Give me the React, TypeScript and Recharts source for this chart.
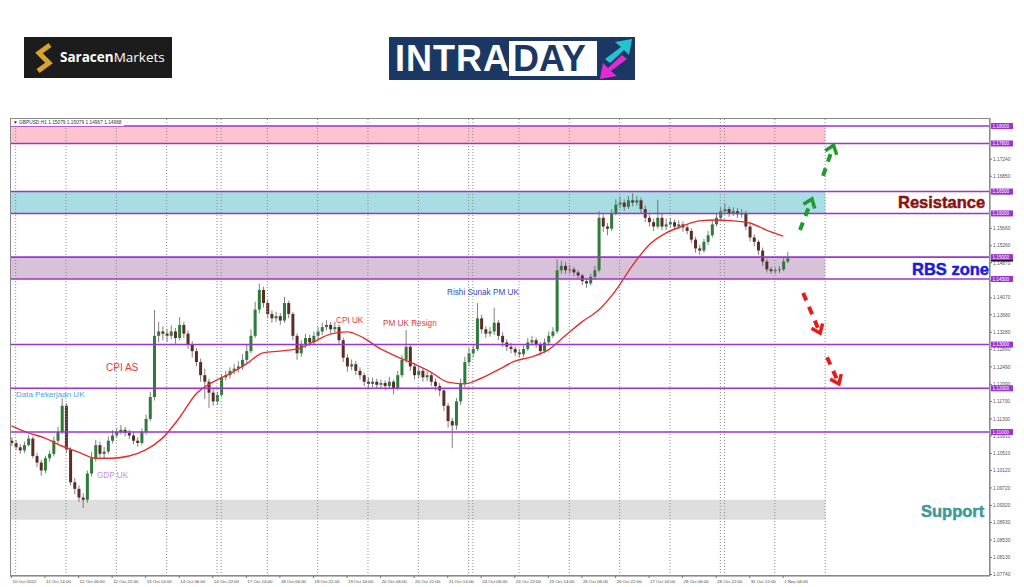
import React from "react";
import {
  ComposedChart,
  Bar,
  Line,
  XAxis,
  YAxis,
  ReferenceArea,
  ReferenceLine,
} from "recharts";

// GBPUSD H1, drawn here as 2-hour candles; x is the hourly bar number
const timeLabels = [
  "10 Oct 2022", "11 Oct 14:00", "12 Oct 06:00", "12 Oct 22:00", "13 Oct 14:00",
  "14 Oct 06:00", "14 Oct 22:00", "17 Oct 14:00", "18 Oct 06:00", "18 Oct 22:00",
  "19 Oct 14:00", "20 Oct 06:00", "20 Oct 22:00", "21 Oct 14:00", "24 Oct 06:00",
  "24 Oct 22:00", "25 Oct 14:00", "26 Oct 06:00", "26 Oct 22:00", "27 Oct 14:00",
  "28 Oct 06:00", "28 Oct 22:00", "31 Oct 12:00", "1 Nov 04:00",
];
const tickBars = [
  0, 16, 32, 48, 64, 80, 96, 112, 128, 144, 160, 176, 192, 208, 224, 240, 256,
  272, 288, 304, 320, 336, 352, 368,
];
const dayLines = [2, 26, 50, 74, 98, 100, 122, 146, 170, 194, 218, 220, 242, 266, 290, 314, 338, 340, 364, 388];

const opens = [
  1.1080, 1.1075, 1.1065, 1.1058, 1.1070, 1.1085, 1.1045, 1.1030, 1.1012, 1.1040,
  1.1050, 1.1080, 1.1100, 1.1160, 1.1060, 1.0985, 1.0970, 1.0950, 1.0945, 1.1005,
  1.1040, 1.1070, 1.1050, 1.1055, 1.1080, 1.1092, 1.1100, 1.1105, 1.1098, 1.1092,
  1.1080, 1.1075, 1.1100, 1.1130, 1.1180, 1.1320, 1.1330, 1.1325, 1.1320, 1.1330,
  1.1315, 1.1345, 1.1325, 1.1300, 1.1285, 1.1260, 1.1230, 1.1215, 1.1190, 1.1170,
  1.1185, 1.1225, 1.1230, 1.1240, 1.1245, 1.1250, 1.1265, 1.1285, 1.1320, 1.1380,
  1.1425, 1.1395, 1.1370, 1.1360, 1.1365, 1.1355, 1.1395, 1.1370, 1.1320, 1.1280,
  1.1300, 1.1315, 1.1305, 1.1320, 1.1330, 1.1340, 1.1345, 1.1335, 1.1340, 1.1310,
  1.1270, 1.1250, 1.1255, 1.1240, 1.1230, 1.1215, 1.1210, 1.1215, 1.1208, 1.1212,
  1.1205, 1.1215, 1.1200, 1.1230, 1.1265, 1.1295, 1.1250, 1.1230, 1.1240, 1.1225,
  1.1230, 1.1215, 1.1205, 1.1195, 1.1160, 1.1125, 1.1115, 1.1170, 1.1210, 1.1260,
  1.1280, 1.1290, 1.1360, 1.1335, 1.1325, 1.1330, 1.1350, 1.1320, 1.1305, 1.1295,
  1.1290, 1.1282, 1.1278, 1.1290, 1.1305, 1.1310, 1.1300, 1.1285, 1.1305, 1.1320,
  1.1330, 1.1470, 1.1480, 1.1470, 1.1472, 1.1465, 1.1458, 1.1445, 1.1440, 1.1455,
  1.1470, 1.1590, 1.1570, 1.1565, 1.1600, 1.1620, 1.1625, 1.1615, 1.1630, 1.1625,
  1.1630, 1.1610, 1.1590, 1.1580, 1.1570, 1.1590, 1.1570, 1.1575, 1.1580, 1.1570,
  1.1575, 1.1568, 1.1560, 1.1540, 1.1520, 1.1515, 1.1535, 1.1550, 1.1575, 1.1590,
  1.1605, 1.1610, 1.1600, 1.1605, 1.1598, 1.1600, 1.1570, 1.1545, 1.1535, 1.1515,
  1.1490, 1.1472, 1.1468, 1.1470, 1.1472, 1.1490,
];
const highs = [
  1.1088, 1.1082, 1.1072, 1.1078, 1.1093, 1.1090, 1.1052, 1.1036, 1.1046, 1.1058,
  1.1090, 1.1112, 1.1178, 1.1166, 1.1065, 1.0995, 1.0978, 1.0960, 1.1012, 1.1055,
  1.1082, 1.1078, 1.1066, 1.1090, 1.1104, 1.1110, 1.1116, 1.1112, 1.1105, 1.1098,
  1.1088, 1.1108, 1.1140, 1.1192, 1.1379, 1.1352, 1.1342, 1.1336, 1.1344, 1.1338,
  1.1363, 1.1352, 1.1332, 1.1308, 1.1292, 1.1268, 1.1245, 1.1222, 1.1198, 1.1192,
  1.1232, 1.1240, 1.1248, 1.1256, 1.1262, 1.1278, 1.1300, 1.1335, 1.1398, 1.1439,
  1.1432, 1.1402, 1.1378, 1.1375, 1.1372, 1.1409, 1.1400, 1.1375, 1.1326, 1.1310,
  1.1325, 1.1322, 1.1330, 1.1340, 1.1350, 1.1356, 1.1352, 1.1352, 1.1346, 1.1316,
  1.1278, 1.1266, 1.1262, 1.1248, 1.1236, 1.1225, 1.1224, 1.1222, 1.1220, 1.1218,
  1.1226, 1.1220, 1.1240, 1.1276, 1.1333, 1.1300, 1.1258, 1.1250, 1.1246, 1.1238,
  1.1236, 1.1222, 1.1212, 1.1200, 1.1166, 1.1132, 1.1178, 1.1222, 1.1272, 1.1292,
  1.1300, 1.1395, 1.1368, 1.1342, 1.1340, 1.1384, 1.1356, 1.1328, 1.1312, 1.1304,
  1.1296, 1.1290, 1.1298, 1.1315, 1.1320, 1.1316, 1.1306, 1.1314, 1.1330, 1.1340,
  1.1495, 1.1492, 1.1488, 1.1482, 1.1478, 1.1470, 1.1462, 1.1452, 1.1462, 1.1480,
  1.1605, 1.1598, 1.1578, 1.1610, 1.1632, 1.1638, 1.1632, 1.1640, 1.1646, 1.1640,
  1.1636, 1.1618, 1.1598, 1.1588, 1.1631, 1.1600, 1.1588, 1.1590, 1.1586, 1.1584,
  1.1582, 1.1574, 1.1566, 1.1546, 1.1528, 1.1542, 1.1560, 1.1584, 1.1600, 1.1614,
  1.1622, 1.1616, 1.1614, 1.1612, 1.1610, 1.1606, 1.1576, 1.1552, 1.1540, 1.1522,
  1.1496, 1.1478, 1.1476, 1.1480, 1.1498, 1.1512,
];
const lows = [
  1.1068, 1.1058, 1.1050, 1.1052, 1.1066, 1.1040, 1.1020, 1.1000, 1.1006, 1.1032,
  1.1044, 1.1074, 1.1095, 1.1052, 1.0978, 1.0958, 1.0940, 1.0926, 1.0938, 1.0998,
  1.1032, 1.1042, 1.1040, 1.1050, 1.1074, 1.1086, 1.1094, 1.1090, 1.1084, 1.1072,
  1.1066, 1.1070, 1.1094, 1.1125, 1.1172, 1.1305, 1.1310, 1.1306, 1.1312, 1.1302,
  1.1310, 1.1315, 1.1290, 1.1270, 1.1250, 1.1215, 1.1175, 1.1155, 1.1160, 1.1162,
  1.1180, 1.1218, 1.1222, 1.1232, 1.1236, 1.1242, 1.1258, 1.1280, 1.1315, 1.1372,
  1.1385, 1.1360, 1.1350, 1.1352, 1.1345, 1.1350, 1.1360, 1.1310, 1.1265, 1.1272,
  1.1292, 1.1296, 1.1298, 1.1312, 1.1322, 1.1332, 1.1326, 1.1328, 1.1302, 1.1260,
  1.1238, 1.1242, 1.1230, 1.1220, 1.1205, 1.1200, 1.1202, 1.1198, 1.1200, 1.1195,
  1.1198, 1.1186, 1.1195, 1.1225, 1.1258, 1.1240, 1.1220, 1.1222, 1.1215, 1.1216,
  1.1205, 1.1195, 1.1182, 1.1148, 1.1110, 1.1063, 1.1105, 1.1162, 1.1202, 1.1250,
  1.1270, 1.1285, 1.1325, 1.1315, 1.1318, 1.1322, 1.1310, 1.1295, 1.1285, 1.1280,
  1.1274, 1.1270, 1.1272, 1.1285, 1.1298, 1.1292, 1.1276, 1.1280, 1.1298, 1.1315,
  1.1325, 1.1462, 1.1462, 1.1462, 1.1456, 1.1450, 1.1436, 1.1430, 1.1435, 1.1448,
  1.1465, 1.1558, 1.1550, 1.1560, 1.1595, 1.1612, 1.1606, 1.1610, 1.1616, 1.1618,
  1.1600, 1.1580, 1.1570, 1.1560, 1.1565, 1.1562, 1.1562, 1.1568, 1.1562, 1.1564,
  1.1558, 1.1552, 1.1532, 1.1510, 1.1505, 1.1510, 1.1528, 1.1545, 1.1570, 1.1585,
  1.1598, 1.1592, 1.1594, 1.1590, 1.1590, 1.1562, 1.1536, 1.1525, 1.1505, 1.1480,
  1.1465, 1.1462, 1.1462, 1.1464, 1.1468, 1.1486,
];
const closes = [
  1.1075, 1.1065, 1.1058, 1.1070, 1.1085, 1.1045, 1.1030, 1.1012, 1.1040, 1.1050,
  1.1080, 1.1100, 1.1160, 1.1060, 1.0985, 1.0970, 1.0950, 1.0945, 1.1005, 1.1040,
  1.1070, 1.1050, 1.1055, 1.1080, 1.1092, 1.1100, 1.1105, 1.1098, 1.1092, 1.1080,
  1.1075, 1.1100, 1.1130, 1.1180, 1.1320, 1.1330, 1.1325, 1.1320, 1.1330, 1.1315,
  1.1345, 1.1325, 1.1300, 1.1285, 1.1260, 1.1230, 1.1215, 1.1190, 1.1170, 1.1185,
  1.1225, 1.1230, 1.1240, 1.1245, 1.1250, 1.1265, 1.1285, 1.1320, 1.1380, 1.1425,
  1.1395, 1.1370, 1.1360, 1.1365, 1.1355, 1.1395, 1.1370, 1.1320, 1.1280, 1.1300,
  1.1315, 1.1305, 1.1320, 1.1330, 1.1340, 1.1345, 1.1335, 1.1340, 1.1310, 1.1270,
  1.1250, 1.1255, 1.1240, 1.1230, 1.1215, 1.1210, 1.1215, 1.1208, 1.1212, 1.1205,
  1.1215, 1.1200, 1.1230, 1.1265, 1.1295, 1.1250, 1.1230, 1.1240, 1.1225, 1.1230,
  1.1215, 1.1205, 1.1195, 1.1160, 1.1125, 1.1115, 1.1170, 1.1210, 1.1260, 1.1280,
  1.1290, 1.1360, 1.1335, 1.1325, 1.1330, 1.1350, 1.1320, 1.1305, 1.1295, 1.1290,
  1.1282, 1.1278, 1.1290, 1.1305, 1.1310, 1.1300, 1.1285, 1.1305, 1.1320, 1.1330,
  1.1470, 1.1480, 1.1470, 1.1472, 1.1465, 1.1458, 1.1445, 1.1440, 1.1455, 1.1470,
  1.1590, 1.1570, 1.1565, 1.1600, 1.1620, 1.1625, 1.1615, 1.1630, 1.1625, 1.1630,
  1.1610, 1.1590, 1.1580, 1.1570, 1.1590, 1.1570, 1.1575, 1.1580, 1.1570, 1.1575,
  1.1568, 1.1560, 1.1540, 1.1520, 1.1515, 1.1535, 1.1550, 1.1575, 1.1590, 1.1605,
  1.1610, 1.1600, 1.1605, 1.1598, 1.1600, 1.1570, 1.1545, 1.1535, 1.1515, 1.1490,
  1.1472, 1.1468, 1.1470, 1.1472, 1.1490, 1.1497,
];
// red moving average, read every 4th candle
const maValues = [
  1.1114, 1.1098, 1.1086, 1.1068, 1.1054, 1.1040, 1.1040, 1.1045, 1.1059, 1.1086,
  1.1132, 1.1187, 1.1214, 1.1233, 1.1256, 1.1281, 1.1285, 1.1290, 1.1306, 1.1324,
  1.1329, 1.1315, 1.1290, 1.1272, 1.1256, 1.1237, 1.1214, 1.1210, 1.1223, 1.1242,
  1.1262, 1.1272, 1.1288, 1.1320, 1.1352, 1.1379, 1.1423, 1.1480, 1.1528, 1.1555,
  1.1571, 1.1583, 1.1585, 1.1583, 1.1578, 1.1562, 1.1548,
];

const priceTicks = [
  1.1724, 1.1685, 1.1646, 1.1566, 1.1526, 1.1487, 1.1447, 1.1407, 1.1368,
  1.1328, 1.1289, 1.1249, 1.1209, 1.117, 1.113, 1.1091, 1.1051, 1.1012, 1.0972,
  1.0932, 1.0893, 1.0853, 1.0813, 1.0774,
];
const levels = [1.18, 1.176, 1.165, 1.16, 1.15, 1.145, 1.13, 1.12, 1.11];
const lastPrice = 1.14968;
const zones = [
  { y1: 1.176, y2: 1.18, fill: "#fdc3cf" },
  { y1: 1.16, y2: 1.165, fill: "#a8dde3" },
  { y1: 1.145, y2: 1.15, fill: "#d8c2da" },
  { y1: 1.0899, y2: 1.0945, fill: "#dedede" },
];
const zoneEnd = 388;
const arrows = [
  { x1: 387, p1: 1.1686, x2: 392, p2: 1.1756, color: "#1f9a2c" },
  { x1: 376, p1: 1.1562, x2: 381.7, p2: 1.1633, color: "#1f9a2c" },
  { x1: 377.5, p1: 1.1418, x2: 385.6, p2: 1.1326, color: "#e41c1c" },
  { x1: 388.9, p1: 1.1271, x2: 394.6, p2: 1.121, color: "#e41c1c" },
];

const rows = closes.map((c, i) => ({
  bar: i * 2,
  open: opens[i],
  high: highs[i],
  low: lows[i],
  close: c,
  range: [lows[i], highs[i]],
  ma: i % 4 === 0 ? maValues[i / 4] : null,
}));

const PURPLE = "#9b34d0";
const SMALL = "'Liberation Sans', Arial, sans-serif";

function Candle(props: any) {
  const { x, y, width, height, payload } = props;
  if (!payload || height == null) return null;
  const top = Math.min(y, y + height);
  const span = Math.abs(height);
  const k = span / (payload.high - payload.low);
  const py = (v: number) => top + (payload.high - v) * k;
  const up = payload.close >= payload.open;
  const bTop = py(Math.max(payload.open, payload.close));
  const bH = Math.max(1, Math.abs(py(payload.open) - py(payload.close)));
  const cx = x + width / 2;
  return (
    <g>
      <line x1={cx} x2={cx} y1={top} y2={top + span} stroke="#606060" strokeWidth={0.8} />
      <rect x={x} y={bTop} width={width} height={bH} fill={up ? "#2e7b3b" : "#5a2e27"} />
    </g>
  );
}

function TimeTick(props: any) {
  const { x, y, payload } = props;
  const label = timeLabels[tickBars.indexOf(payload.value)];
  return (
    <g>
      <line x1={x} x2={x} y1={y} y2={y + 2} stroke="#777" />
      <text x={x + 1} y={y + 6.5} fontSize={4.4} fill="#444" fontFamily={SMALL}>
        {label}
      </text>
    </g>
  );
}

function PriceTick(props: any) {
  const { x, y, payload } = props;
  const v = payload.value;
  const isLevel = levels.includes(v);
  if (isLevel || v === lastPrice) {
    return (
      <g>
        <rect x={x + 1} y={y - 3} width={22} height={6} fill={isLevel ? PURPLE : "#111"} />
        <text x={x + 2.5} y={y + 1.7} fontSize={4.6} fill="#fff" fontFamily={SMALL}>
          {v.toFixed(5)}
        </text>
      </g>
    );
  }
  return (
    <g>
      <line x1={x} x2={x + 2} y1={y} y2={y} stroke="#777" />
      <text x={x + 3} y={y + 1.7} fontSize={4.8} fill="#555" fontFamily={SMALL}>
        {v.toFixed(5)}
      </text>
    </g>
  );
}

function DashedArrow(props: any) {
  const { x1, y1, x2, y2, stroke } = props;
  const a = Math.atan2(y2 - y1, x2 - x1);
  const arm = 10;
  const h1 = [x2 - arm * Math.cos(a - 0.65), y2 - arm * Math.sin(a - 0.65)];
  const h2 = [x2 - arm * Math.cos(a + 0.65), y2 - arm * Math.sin(a + 0.65)];
  const ex = x2 - 6 * Math.cos(a);
  const ey = y2 - 6 * Math.sin(a);
  return (
    <g>
      <line x1={x1} y1={y1} x2={ex} y2={ey} stroke={stroke} strokeWidth={4} strokeDasharray="8 7" />
      <polyline
        points={`${h1[0]},${h1[1]} ${x2},${y2} ${h2[0]},${h2[1]}`}
        fill="none"
        stroke={stroke}
        strokeWidth={3.5}
      />
    </g>
  );
}

const notes = [
  { text: "Data Pekerjaan UK", x: 16, y: 395, size: 8, color: "#4aa3df" },
  { text: "GDP UK", x: 97, y: 476, size: 8.2, color: "#d08ce0" },
  { text: "CPI AS", x: 106, y: 368, size: 10, color: "#e03c3c" },
  { text: "CPI UK", x: 336, y: 321, size: 8.2, color: "#e03c3c" },
  { text: "PM UK Resign", x: 383, y: 324, size: 8.2, color: "#e03c3c" },
  { text: "Rishi Sunak PM UK", x: 447, y: 293, size: 8.2, color: "#3c46c8" },
];
const bigNotes = [
  { text: "Resistance", x: 898, y: 202, size: 16.5, color: "#8c1212" },
  { text: "RBS zone", x: 912, y: 269, size: 16.5, color: "#1c1cd8" },
  { text: "Support", x: 921, y: 511, size: 16.5, color: "#3d9a9a" },
];

export default function App() {
  return (
    <div
      style={{
        position: "fixed",
        left: 0,
        top: 0,
        width: 1024,
        height: 587,
        background: "#fff",
        overflow: "hidden",
        fontFamily: SMALL,
      }}
    >
      {/* logos */}
      <div style={{ position: "absolute", left: 24, top: 37, width: 148, height: 41, background: "#1c1c1c" }}>
        <svg width={20} height={32} style={{ position: "absolute", left: 10, top: 5 }}>
          <polyline points="16,3 5,11 15,21 4,29" fill="none" stroke="#d9a32b" strokeWidth={5} />
        </svg>
        <div
          style={{
            position: "absolute",
            left: 36,
            top: 12,
            fontSize: 13.5,
            lineHeight: "16px",
            color: "#fff",
            fontFamily: "'Open Sans', sans-serif",
            whiteSpace: "nowrap",
          }}
        >
          <b>Saracen</b>Markets
        </div>
      </div>
      <div style={{ position: "absolute", left: 389, top: 37, width: 246, height: 43, background: "#1b3764" }}>
        <div
          style={{
            position: "absolute",
            left: 6,
            top: 4,
            fontSize: 36,
            lineHeight: "36px",
            fontWeight: 700,
            color: "#fff",
            letterSpacing: 1,
          }}
        >
          INTRA
        </div>
        <div style={{ position: "absolute", left: 120, top: 4, width: 88, height: 35, background: "#fff" }}>
          <div
            style={{
              position: "absolute",
              left: 4,
              top: 0,
              fontSize: 36,
              lineHeight: "36px",
              fontWeight: 700,
              color: "#1b3764",
            }}
          >
            DAY
          </div>
        </div>
        <svg width={34} height={40} style={{ position: "absolute", left: 210, top: 2 }}>
          <polygon points="6,20 22,8 16,3 33,0 30,16 25,11 11,24" fill="#22c4d2" />
          <polygon points="28,20 12,32 18,37 1,40 4,24 9,29 23,16" fill="#e32bd3" />
        </svg>
      </div>

      <div style={{ position: "absolute", left: 0, top: 0 }}>
        <ComposedChart
          width={1024}
          height={587}
          data={rows}
          margin={{ top: 118, right: 0, bottom: 0, left: 10 }}
        >
          <XAxis
            type="number"
            dataKey="bar"
            domain={[-0.7, 466.6]}
            ticks={tickBars}
            interval={0}
            height={11}
            tickSize={0}
            tickMargin={0}
            tick={<TimeTick />}
            axisLine={{ stroke: "#777" }}
            allowDataOverflow
          />
          <YAxis
            orientation="right"
            type="number"
            domain={[1.07706, 1.18183]}
            ticks={[...priceTicks, lastPrice, ...levels]}
            interval={0}
            width={34}
            tickSize={0}
            tickMargin={0}
            tick={<PriceTick />}
            axisLine={{ stroke: "#777" }}
            allowDataOverflow
          />
          {zones.map((z) => (
            <ReferenceArea
              key={z.fill}
              x1={-0.7}
              x2={zoneEnd}
              y1={z.y1}
              y2={z.y2}
              fill={z.fill}
              fillOpacity={1}
              stroke="none"
            />
          ))}
          {dayLines.map((b) => (
            <ReferenceLine key={b} x={b} stroke="#8a8a8a" strokeDasharray="1 2" />
          ))}
          <Bar dataKey="range" barSize={3} shape={(p: any) => <Candle {...p} />} isAnimationActive={false} />
          <Line
            dataKey="ma"
            type="monotone"
            stroke="#e23030"
            strokeWidth={1.4}
            dot={false}
            connectNulls
            isAnimationActive={false}
          />
          {levels.map((lv) => (
            <ReferenceLine key={lv} y={lv} stroke={PURPLE} strokeWidth={1.6} />
          ))}
          {arrows.map((a, i) => (
            <ReferenceLine
              key={i}
              segment={[
                { x: a.x1, y: a.p1 },
                { x: a.x2, y: a.p2 },
              ]}
              stroke={a.color}
              shape={(p: any) => <DashedArrow {...p} stroke={a.color} />}
            />
          ))}
        </ComposedChart>
      </div>

      {/* chart frame and header */}
      <div
        style={{
          position: "absolute",
          left: 10,
          top: 118,
          width: 980,
          height: 458,
          border: "1px solid #8a8a8a",
          boxSizing: "border-box",
          pointerEvents: "none",
        }}
      />
      <div
        style={{
          position: "absolute",
          left: 11,
          top: 119,
          padding: "0 2px",
          background: "#fff",
          fontSize: 4.8,
          lineHeight: "7px",
          color: "#333",
          whiteSpace: "nowrap",
        }}
      >
        ▼ GBPUSD,H1 1.15079 1.15079 1.14967 1.14968
      </div>

      {notes.map((n) => (
        <div
          key={n.text}
          style={{
            position: "absolute",
            left: n.x,
            top: n.y - n.size / 2,
            fontSize: n.size,
            lineHeight: `${n.size}px`,
            color: n.color,
            whiteSpace: "nowrap",
          }}
        >
          {n.text}
        </div>
      ))}
      {bigNotes.map((n) => (
        <div
          key={n.text}
          style={{
            position: "absolute",
            left: n.x,
            top: n.y - n.size / 2,
            fontSize: n.size,
            lineHeight: `${n.size}px`,
            fontWeight: 700,
            color: n.color,
            whiteSpace: "nowrap",
            WebkitTextStroke: `0.5px ${n.color}`,
          }}
        >
          {n.text}
        </div>
      ))}
    </div>
  );
}
